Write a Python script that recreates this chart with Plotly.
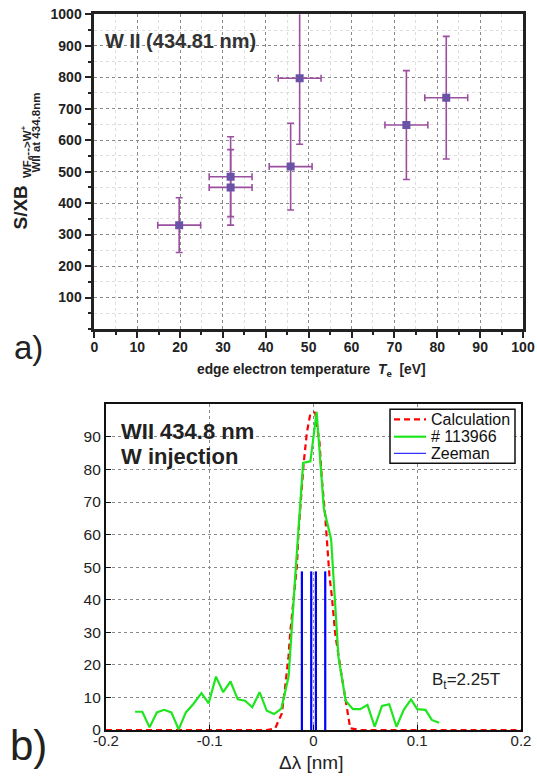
import plotly.graph_objects as go

# ---------------- Panel a) data ----------------
te = [19.8, 31.8, 31.8, 45.8, 47.9, 72.8, 82.1]
te_err = [5, 5, 5, 5, 5, 5, 5]
sxb = [330, 484, 450, 516, 797, 648, 735]
sxb_err = [87, 127, 120, 138, 210, 173, 195]

# ---------------- Panel b) data ----------------
meas_x = [-0.172, -0.165, -0.158, -0.151, -0.144, -0.137, -0.130, -0.123, -0.116, -0.108,
          -0.101, -0.094, -0.087, -0.080, -0.073, -0.066, -0.059, -0.052, -0.045, -0.038,
          -0.031, -0.024, -0.017, -0.010, -0.003, 0.003, 0.010, 0.017, 0.024, 0.031,
          0.038, 0.045, 0.052, 0.059, 0.066, 0.073, 0.080, 0.087, 0.094, 0.100,
          0.108, 0.114, 0.121]
meas_y = [5.6, 5.6, 0.8, 5.4, 6.2, 5.4, 0.2, 5.4, 7.9, 11.3,
          8.2, 16.4, 11.6, 14.9, 9.4, 9.0, 7.0, 11.6, 5.9, 4.9,
          6.6, 16.4, 50.0, 82.0, 82.5, 97.7, 68.0, 58.5, 22.6, 9.0,
          6.4, 6.4, 7.7, 1.0, 7.4, 7.9, 1.0, 6.2, 9.4, 6.4,
          6.2, 3.1, 2.2]

calc_x = [-0.2, -0.045, -0.0369, -0.032, -0.0305, -0.0273, -0.0241, -0.0225, -0.0193, -0.0160,
          -0.0145, -0.0121, -0.0096, -0.0064, -0.0032, 0.0, 0.0016, 0.0058, 0.0081,
          0.0113, 0.0135, 0.0154, 0.0177, 0.0209, 0.0257, 0.0306, 0.0337, 0.0354, 0.045, 0.2]
calc_y = [0.0, 0.0, 0.5, 4.1, 5.1, 13.3, 22.6, 29.7, 41.0, 50.3,
          60.5, 70.8, 81.5, 91.3, 96.9, 97.5, 97.4, 88.2, 76.9,
          65.6, 55.4, 47.2, 41.0, 29.7, 19.5, 9.2, 3.1, 0.5, 0.0, 0.0]

zeeman_pos = [-0.0112, -0.0022, 0.0023, 0.0113]
zeeman_h = [48.7, 48.7, 48.7, 48.7]

legend_names = ["Calculation", "# 113966", "Zeeman"]

W, H = 537, 776
FONT = "Liberation Sans, Arial, Helvetica, sans-serif"

RED = "#ff0000"
GREEN = "#1ee61e"
BLUE = "#0000ff"


def px(x):
    return x / W


def py(y):
    return 1 - y / H


fig = go.Figure()

# panel a
fig.add_trace(go.Scatter(
    x=te, y=sxb, mode="markers", xaxis="x", yaxis="y", showlegend=False,
    marker=dict(symbol="square", size=8, color="#6a52a6"),
    error_x=dict(type="data", array=te_err, color="#9a4f9f", thickness=1.6, width=3.5),
    error_y=dict(type="data", array=sxb_err, color="#9a4f9f", thickness=1.6, width=3.5),
))

# panel b
fig.add_trace(go.Scatter(
    x=calc_x, y=calc_y, mode="lines", name=legend_names[0], xaxis="x2", yaxis="y2",
    showlegend=False, line=dict(color=RED, width=2.2, dash="6px,4px"),
))
fig.add_trace(go.Scatter(
    x=meas_x, y=meas_y, mode="lines", name=legend_names[1], xaxis="x2", yaxis="y2",
    showlegend=False, line=dict(color=GREEN, width=2.2),
))
zx, zy = [], []
for p, h in zip(zeeman_pos, zeeman_h):
    zx += [p, p, None]
    zy += [0, h, None]
fig.add_trace(go.Scatter(
    x=zx, y=zy, mode="lines", name=legend_names[2], xaxis="x2", yaxis="y2", showlegend=False,
    line=dict(color=BLUE, width=2.2),
))

bold_ticks = dict(family=FONT, size=14, color="#222", weight="bold")

fig.update_layout(
    width=W, height=H,
    margin=dict(l=0, r=0, t=0, b=0),
    paper_bgcolor="white", plot_bgcolor="white",
    font=dict(family=FONT, color="#222"),
    showlegend=False,
    # ---- panel a axes ----
    xaxis=dict(domain=[px(94.3), px(523)], anchor="y", range=[0, 100], dtick=10,
               tickfont=bold_ticks, ticks="outside", ticklen=6, tickwidth=2, tickcolor="#222",
               ticklabelstandoff=-3,
               showline=True, linewidth=2.6, linecolor="#222", mirror=True,
               showgrid=True, gridcolor="#8a8a8a", griddash="dot", gridwidth=1,
               zeroline=False, automargin=False,
               minor=dict(dtick=5, ticks="outside", ticklen=3, tickwidth=1.5, tickcolor="#222",
                          showgrid=True, gridcolor="#dedede", gridwidth=1)),
    yaxis=dict(domain=[py(329), py(14.3)], anchor="x", range=[0, 1000],
               tickvals=[100, 200, 300, 400, 500, 600, 700, 800, 900, 1000],
               tickfont=bold_ticks, ticks="outside", ticklen=7, tickwidth=2, tickcolor="#222",
               showline=True, linewidth=2.6, linecolor="#222", mirror=True,
               showgrid=True, gridcolor="#8a8a8a", griddash="dot", gridwidth=1,
               zeroline=False, automargin=False,
               minor=dict(dtick=50, ticks="outside", ticklen=4, tickwidth=1.5, tickcolor="#222",
                          showgrid=True, gridcolor="#dedede", gridwidth=1)),
    xaxis3=dict(overlaying="x", side="top", anchor="y", range=[0, 100], dtick=10,
                showticklabels=False, ticks="inside", ticklen=6, tickwidth=2, tickcolor="#222",
                showgrid=False, zeroline=False, showline=False,
                minor=dict(dtick=5, ticks="inside", ticklen=4, tickwidth=1.5, tickcolor="#222")),
    yaxis3=dict(overlaying="y", side="right", anchor="x", range=[0, 1000], dtick=100,
                showticklabels=False, ticks="inside", ticklen=6, tickwidth=2, tickcolor="#222",
                showgrid=False, zeroline=False, showline=False,
                minor=dict(dtick=50, ticks="inside", ticklen=4, tickwidth=1.5, tickcolor="#222")),
    # ---- panel b axes ----
    xaxis2=dict(domain=[px(106), px(521)], anchor="y2", range=[-0.2, 0.2],
                tickvals=[-0.2, -0.1, 0, 0.1, 0.2], ticktext=["-0.2", "-0.1", "0", "0.1", "0.2"],
                tickfont=dict(family=FONT, size=15, color="#222"),
                ticks="inside", ticklen=5, tickwidth=1, tickcolor="#111",
                ticklabelstandoff=-4,
                showline=True, linewidth=2.2, linecolor="#111", mirror=True,
                showgrid=True, gridcolor="#8a8a8a", griddash="dot", gridwidth=1,
                zeroline=False, automargin=False),
    yaxis2=dict(domain=[py(730), py(404.3)], anchor="x2", range=[0, 100],
                tickvals=[0, 10, 20, 30, 40, 50, 60, 70, 80, 90],
                tickfont=dict(family=FONT, size=15.5, color="#222"),
                ticks="inside", ticklen=5, tickwidth=1, tickcolor="#111",
                showline=True, linewidth=2.2, linecolor="#111", mirror=True,
                showgrid=True, gridcolor="#8a8a8a", griddash="dot", gridwidth=1,
                zeroline=False, automargin=False),
    xaxis4=dict(overlaying="x2", side="top", anchor="y2", range=[-0.2, 0.2],
                tickvals=[-0.1, 0, 0.1], showticklabels=False,
                ticks="outside", ticklen=5, tickwidth=1, tickcolor="#111",
                showgrid=False, zeroline=False, showline=False),
    yaxis4=dict(overlaying="y2", side="right", anchor="x2", range=[0, 8],
                tickvals=[1, 2, 3, 4, 5, 6], showticklabels=False,
                ticks="inside", ticklen=5, tickwidth=1.2, tickcolor="#111",
                showgrid=False, zeroline=False, showline=False),
)

# ---- legend box for panel b (drawn as a compact MATLAB-style legend) ----
shapes = [dict(type="rect", xref="paper", yref="paper",
               x0=px(390), x1=px(515), y0=py(463.3), y1=py(409.3),
               line=dict(color="#111", width=1.5), fillcolor="white", layer="above")]
leg_rows = [419.3, 436.7, 453.3]
leg_styles = [dict(color=RED, width=2.2, dash="6px,4px"),
              dict(color=GREEN, width=2.2),
              dict(color=BLUE, width=1)]
for yy, st in zip(leg_rows, leg_styles):
    shapes.append(dict(type="line", xref="paper", yref="paper",
                       x0=px(394), x1=px(426), y0=py(yy), y1=py(yy),
                       line=st, layer="above"))
fig.update_layout(shapes=shapes)

ann = []
for yy, name in zip(leg_rows, legend_names):
    ann.append(dict(text=name, x=px(429), y=py(yy), xref="paper", yref="paper",
                    xanchor="left", yanchor="middle", showarrow=False,
                    font=dict(family=FONT, size=16, color="#111")))
# panel a texts
ann.append(dict(text="<b>W II (434.81 nm)</b>", x=px(103), y=py(41), xref="paper", yref="paper",
                xanchor="left", yanchor="middle", showarrow=False,
                font=dict(family=FONT, size=20, color="#333")))
ann.append(dict(text="<b>edge electron temperature  <i>T</i><sub>e</sub>  [eV]</b>",
                x=px(311), y=py(370), xref="paper", yref="paper",
                xanchor="center", yanchor="middle", showarrow=False,
                font=dict(family=FONT, size=13.8, color="#222")))
ann.append(dict(text="<b>S/XB</b>", x=px(20.5), y=py(208), xref="paper", yref="paper",
                textangle=-90, xanchor="center", yanchor="middle", showarrow=False,
                font=dict(family=FONT, size=19, color="#222")))
ann.append(dict(text="<b>WF<sub>6</sub>-->W<sup>+</sup></b>", x=px(27), y=py(152), xref="paper", yref="paper",
                textangle=-90, xanchor="center", yanchor="middle", showarrow=False,
                font=dict(family=FONT, size=11.5, color="#222")))
ann.append(dict(text="<b>WII at 434.8nm</b>", x=px(35.5), y=py(133), xref="paper", yref="paper",
                textangle=-90, xanchor="center", yanchor="middle", showarrow=False,
                font=dict(family=FONT, size=11.5, color="#222")))
ann.append(dict(text="a)", x=px(28), y=py(347), xref="paper", yref="paper",
                xanchor="center", yanchor="middle", showarrow=False,
                font=dict(family=FONT, size=33, color="#222")))
# panel b texts
ann.append(dict(text="<b>WII 434.8 nm</b>", x=px(119), y=py(431.7), xref="paper", yref="paper",
                xanchor="left", yanchor="middle", showarrow=False,
                font=dict(family=FONT, size=22, color="#222")))
ann.append(dict(text="<b>W injection</b>", x=px(119), y=py(456.7), xref="paper", yref="paper",
                xanchor="left", yanchor="middle", showarrow=False,
                font=dict(family=FONT, size=22, color="#222")))
ann.append(dict(text="B<sub>t</sub>=2.25T", x=px(430), y=py(681), xref="paper", yref="paper",
                xanchor="left", yanchor="middle", showarrow=False,
                font=dict(family=FONT, size=17, color="#222")))
ann.append(dict(text="Δλ [nm]", x=px(311), y=py(762), xref="paper", yref="paper",
                xanchor="center", yanchor="middle", showarrow=False,
                font=dict(family=FONT, size=19, color="#222")))
ann.append(dict(text="b)", x=px(28), y=py(745), xref="paper", yref="paper",
                xanchor="center", yanchor="middle", showarrow=False,
                font=dict(family=FONT, size=42, color="#222")))
fig.update_layout(annotations=ann)

fig.write_html("out.html", config={"displayModeBar": False},
               post_script="document.body.style.margin='0px';")
